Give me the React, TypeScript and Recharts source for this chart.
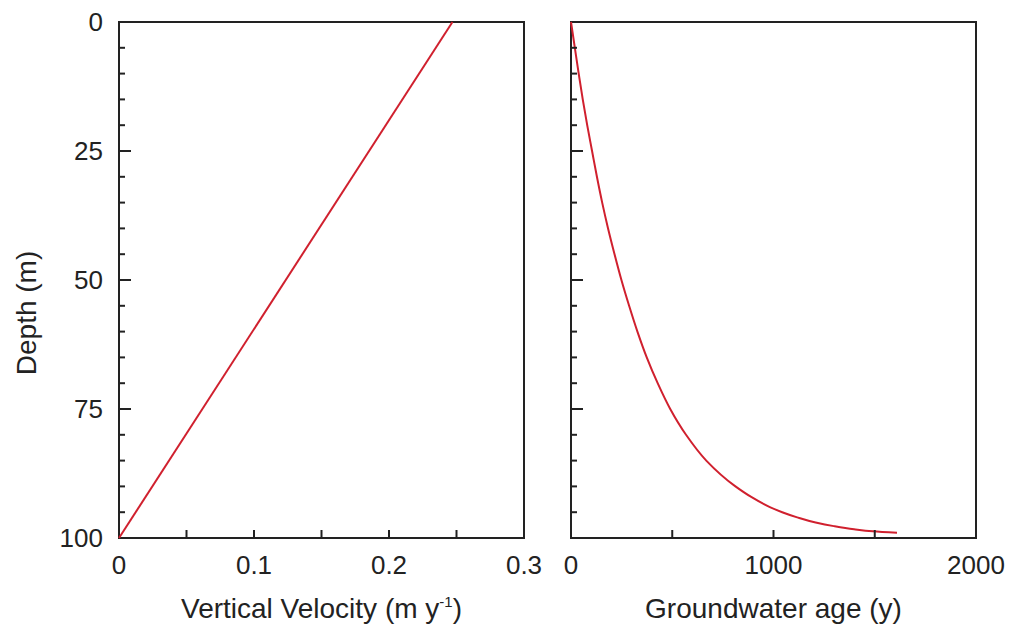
import { LineChart, Line, XAxis, YAxis, ReferenceArea, Label } from "recharts";

// left panel: vertical velocity vs depth
const VEL_DEPTH = [0, 100];
const VELOCITY = [0.247, 0];

// right panel: groundwater age vs depth
const AGE_DEPTH = [0, 5, 10, 15, 20, 25, 30, 35, 40, 45, 50, 55, 60, 65, 70, 75, 80, 85, 90, 92, 94, 95, 96, 97, 97.7, 98.3, 98.7, 99];
const AGE = [0, 19, 38, 58, 80, 104, 128, 154, 183, 215, 249, 287, 328, 374, 428, 490, 568, 668, 812, 888, 982, 1043, 1117, 1208, 1298, 1398, 1490, 1610];

const DEPTH_TICKS = [0, 5, 10, 15, 20, 25, 30, 35, 40, 45, 50, 55, 60, 65, 70, 75, 80, 85, 90, 95, 100];
const DEPTH_LABELS = [0, 25, 50, 75, 100];
const VEL_TICKS = [0, 0.05, 0.1, 0.15, 0.2, 0.25, 0.3];
const VEL_LABELS = [0, 0.1, 0.2, 0.3];
const AGE_TICKS = [0, 500, 1000, 1500, 2000];
const AGE_LABELS = [0, 1000, 2000];

const velData = VEL_DEPTH.map((d, i) => ({ depth: d, v: VELOCITY[i] }));
const ageData = AGE_DEPTH.map((d, i) => ({ depth: d, age: AGE[i] }));

const FONT = '"Liberation Sans", Arial, sans-serif';
const INK = "#222";
const RED = "#d0202e";
const TICK_FS = 26;
const TITLE_FS = 28;

const has = (list: number[], v: number) => list.some((l) => Math.abs(l - v) < 1e-9);

function yTick(showLabels: boolean) {
  return (props: any) => {
    const { x, y, payload } = props;
    const v = payload.value;
    const major = v % 25 === 0;
    const edge = v === 0 || v === 100;
    return (
      <g>
        {!edge && (
          <line x1={x} x2={x + (major ? 12 : 6)} y1={y} y2={y} stroke={INK} strokeWidth={2} />
        )}
        {showLabels && has(DEPTH_LABELS, v) && (
          <text x={x - 16} y={y + 9} textAnchor="end" fontSize={TICK_FS} fontFamily={FONT} fill={INK}>
            {v}
          </text>
        )}
      </g>
    );
  };
}

function xTick(labels: number[], lo: number, hi: number) {
  return (props: any) => {
    const { x, y, payload } = props;
    const v = payload.value;
    const edge = Math.abs(v - lo) < 1e-9 || Math.abs(v - hi) < 1e-9;
    return (
      <g>
        {!edge && <line x1={x} x2={x} y1={y} y2={y - 8} stroke={INK} strokeWidth={2} />}
        {has(labels, v) && (
          <text x={x} y={y + 36} textAnchor="middle" fontSize={TICK_FS} fontFamily={FONT} fill={INK}>
            {Number(v.toFixed(2))}
          </text>
        )}
      </g>
    );
  };
}

function xTitle(main: string, sup?: string, tail?: string) {
  return (props: any) => {
    const vb = props.viewBox;
    return (
      <text x={vb.x + vb.width / 2} y={vb.y + 80} textAnchor="middle" fontSize={TITLE_FS} fontFamily={FONT} fill={INK}>
        {main}
        {sup && (
          <tspan fontSize={15} dy={-11}>
            {sup}
          </tspan>
        )}
        {tail && <tspan dy={11}>{tail}</tspan>}
      </text>
    );
  };
}

function depthTitle(props: any) {
  const vb = props.viewBox;
  const cx = vb.x + 26;
  const cy = vb.y + vb.height / 2 + 33;
  return (
    <text x={cx} y={cy} textAnchor="middle" dominantBaseline="central" transform={`rotate(-90, ${cx}, ${cy})`} fontSize={TITLE_FS} fontFamily={FONT} fill={INK}>
      Depth (m)
    </text>
  );
}

export default function App() {
  return (
    <div style={{ position: "absolute", left: 0, top: 0, width: 1016, height: 636, background: "#fff" }}>
      <div style={{ position: "absolute", left: 0, top: 0 }}>
        <LineChart width={545} height={636} data={velData} layout="vertical" margin={{ top: 22, right: 21, left: 0, bottom: 0 }}>
          <XAxis type="number" dataKey="v" domain={[0, 0.3]} ticks={VEL_TICKS} interval={0} height={98} axisLine={false} tickLine={false} tickSize={0} tickMargin={0} tick={xTick(VEL_LABELS, 0, 0.3)}>
            <Label content={xTitle("Vertical Velocity (m y", "-1", ")")} />
          </XAxis>
          <YAxis type="number" dataKey="depth" domain={[0, 100]} ticks={DEPTH_TICKS} interval={0} width={119} axisLine={false} tickLine={false} tickSize={0} tickMargin={0} tick={yTick(true)}>
            <Label content={depthTitle} />
          </YAxis>
          <ReferenceArea x1={0} x2={0.3} y1={0} y2={100} fill="none" stroke={INK} strokeWidth={2} />
          <Line dataKey="v" stroke={RED} strokeWidth={2} dot={false} isAnimationActive={false} />
        </LineChart>
      </div>
      <div style={{ position: "absolute", left: 545, top: 0 }}>
        <LineChart width={471} height={636} data={ageData} layout="vertical" margin={{ top: 22, right: 40, left: 0, bottom: 0 }}>
          <XAxis type="number" dataKey="age" domain={[0, 2000]} ticks={AGE_TICKS} interval={0} height={98} axisLine={false} tickLine={false} tickSize={0} tickMargin={0} tick={xTick(AGE_LABELS, 0, 2000)}>
            <Label content={xTitle("Groundwater age (y)")} />
          </XAxis>
          <YAxis type="number" dataKey="depth" domain={[0, 100]} ticks={DEPTH_TICKS} interval={0} width={26} axisLine={false} tickLine={false} tickSize={0} tickMargin={0} tick={yTick(false)} />
          <ReferenceArea x1={0} x2={2000} y1={0} y2={100} fill="none" stroke={INK} strokeWidth={2} />
          <Line dataKey="age" type="monotone" stroke={RED} strokeWidth={2} dot={false} isAnimationActive={false} />
        </LineChart>
      </div>
    </div>
  );
}
